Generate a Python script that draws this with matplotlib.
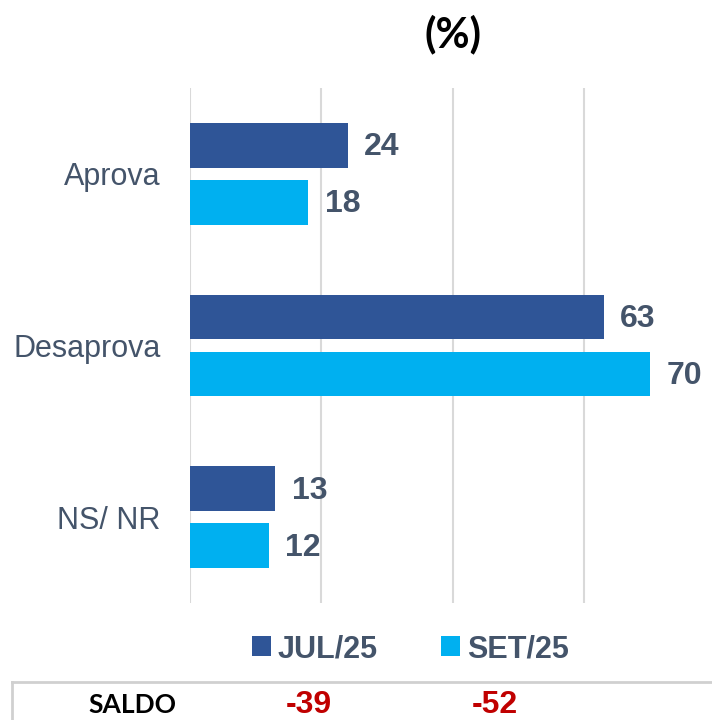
import matplotlib
matplotlib.use("Agg")
import matplotlib.pyplot as plt
from matplotlib.lines import Line2D
import numpy as np

categories = ["Aprova", "Desaprova", "NS/ NR"]
series_names = ["JUL/25", "SET/25"]
jul_values = [24, 63, 13]
set_values = [18, 70, 12]
saldo_label = "SALDO"
saldo_values = ["-39", "-52"]
title_text = "(%)"

dark = "#2F5597"
light = "#00B0F0"
txt = "#44546A"
grid_c = "#D9D9D9"

W, H = 712, 720
fig = plt.figure(figsize=(W / 100, H / 100), dpi=100)
ax = fig.add_axes([190 / W, 1 - 603 / H, (W - 190) / W, 515 / H])

y = np.arange(len(categories))
bh = 0.262
off = 0.166
b1 = ax.barh(y - off, jul_values, height=bh, color=dark, label=series_names[0], zorder=3)
b2 = ax.barh(y + off, set_values, height=bh, color=light, label=series_names[1], zorder=3)

ax.set_xlim(0, 79.5)
ax.set_ylim(2.5, -0.5)
ax.set_xticks([0, 20, 40, 60])
ax.xaxis.grid(True, color=grid_c, linewidth=1.5, zorder=0)
ax.tick_params(axis="x", length=0, labelbottom=False)
ax.tick_params(axis="y", length=0, pad=21.0)
ax.set_yticks(y)
ax.set_yticklabels(categories, fontsize=22, color=txt, family="Liberation Sans")
for s in ax.spines.values():
    s.set_visible(False)

for bars, vals in ((b1, jul_values), (b2, set_values)):
    for rect, v in zip(bars, vals):
        ax.annotate(str(v), (rect.get_width(), rect.get_y() + rect.get_height() / 2),
                    xytext=(12, -1.5), textcoords="offset points", ha="left", va="center",
                    fontsize=23, fontweight="bold", color=txt, family="Liberation Sans")

fig.text(453.5 / W, 1 - 34 / H, title_text, ha="center", va="center",
         fontsize=30, fontweight="bold", color="black", family="Lato")

leg_size = 22
fpx = leg_size / 0.72
leg = fig.legend(handles=[b1, b2], loc="center", bbox_to_anchor=(410.5 / W, 1 - 649 / H),
                 ncol=2, frameon=False, handlelength=19 / fpx, handleheight=19 / fpx,
                 handletextpad=7 / fpx, columnspacing=63 / fpx,
                 borderpad=0, borderaxespad=0,
                 prop={"family": "Liberation Sans", "weight": "bold", "size": leg_size})
for t in leg.get_texts():
    t.set_color(txt)

# table border
fig.add_artist(Line2D([12 / W, 1], [1 - 682 / H, 1 - 682 / H], color="#D0D0D0", linewidth=2))
fig.add_artist(Line2D([12 / W, 12 / W], [1 - 682 / H, 0], color="#D0D0D0", linewidth=2))

fig.text(132 / W, 1 - 705 / H, saldo_label, ha="center", va="center",
         fontsize=19, fontweight="bold", color="black", family="Lato")
for xc, s in zip([309, 495], saldo_values):
    fig.text(xc / W, 1 - 705 / H, s, ha="center", va="center",
             fontsize=23, fontweight="bold", color="#C00000", family="Liberation Sans")

fig.savefig("out.png", dpi=100)
